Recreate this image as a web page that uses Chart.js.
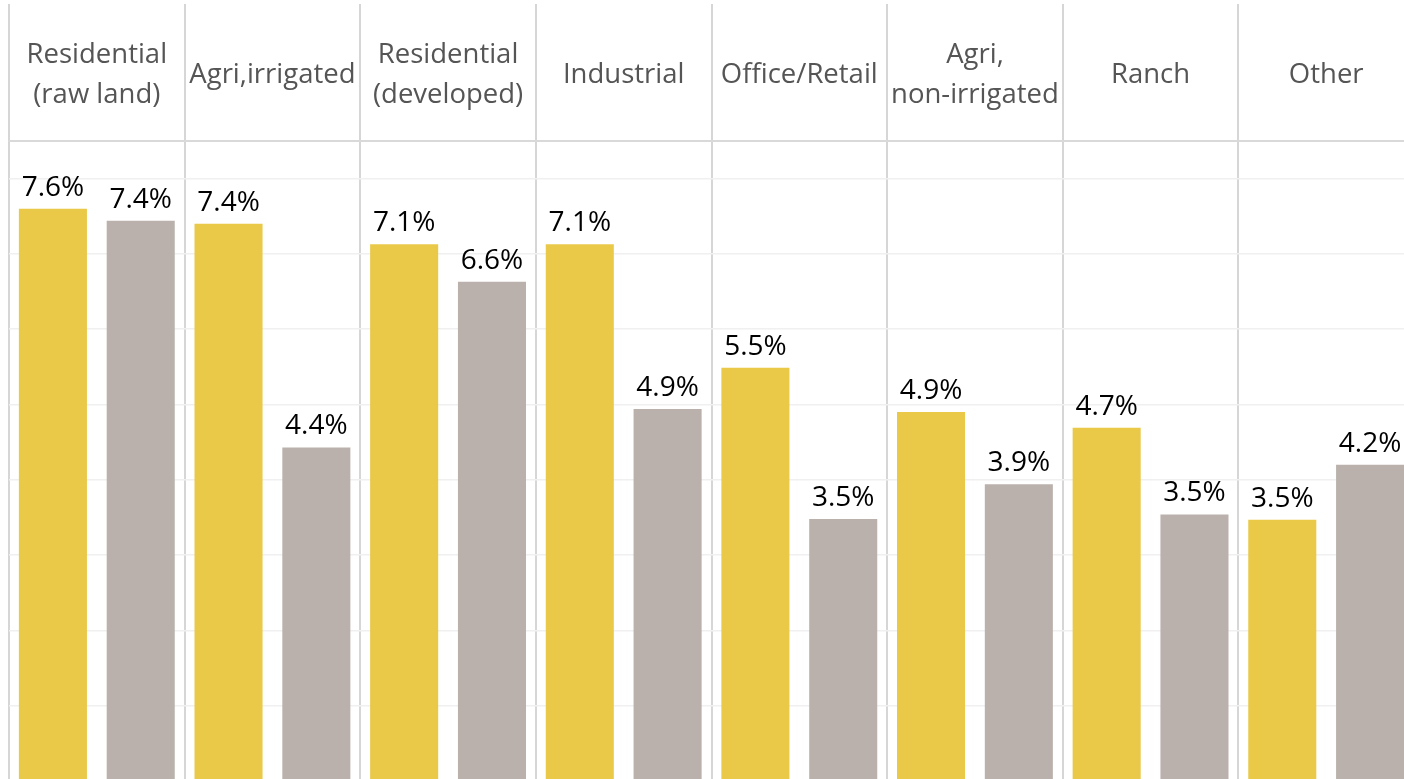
<!DOCTYPE html>
<html>
<head>
<meta charset="utf-8">
<script src="https://cdn.jsdelivr.net/npm/chart.js@4.4.1/dist/chart.umd.min.js"></script>
<style>
  html, body { margin: 0; padding: 0; background: #ffffff; overflow: hidden; }
  #wrap { width: 1404px; height: 779px; overflow: hidden; position: relative; }
  canvas { display: block; }
</style>
</head>
<body>
<div id="wrap"><canvas id="c" width="1414" height="781"></canvas></div>
<script>
const categories = [
  ["Residential", "(raw land)"],
  "Agri,irrigated",
  ["Residential", "(developed)"],
  "Industrial",
  "Office/Retail",
  ["Agri,", "non-irrigated"],
  "Ranch",
  "Other"
];
const seriesA = [7.6, 7.40, 7.13, 7.13, 5.49, 4.90, 4.69, 3.47];
const seriesB = [7.44, 4.43, 6.63, 4.94, 3.48, 3.94, 3.54, 4.20];
const yTicks = { min: 0, max: 8.5, step: 1 };

const barLabels = {
  id: 'barLabels',
  afterDatasetsDraw(chart) {
    const ctx = chart.ctx;
    ctx.save();
    ctx.font = '28px "Open Sans"';
    ctx.fillStyle = '#000000';
    ctx.textAlign = 'center';
    ctx.textBaseline = 'alphabetic';
    chart.data.datasets.forEach((ds, i) => {
      const meta = chart.getDatasetMeta(i);
      meta.data.forEach((bar, j) => {
        ctx.fillText(ds.data[j].toFixed(1) + '%', bar.x, bar.y - 13);
      });
    });
    ctx.restore();
  }
};

new Chart(document.getElementById('c'), {
  type: 'bar',
  data: {
    labels: categories,
    datasets: [
      { data: seriesA, backgroundColor: '#EAC848', borderWidth: 0,
        categoryPercentage: 1.0, barPercentage: 0.775 },
      { data: seriesB, backgroundColor: '#BAB1AC', borderWidth: 0,
        categoryPercentage: 1.0, barPercentage: 0.775 }
    ]
  },
  options: {
    responsive: false,
    devicePixelRatio: 1,
    animation: false,
    layout: { padding: { top: 4, left: 9, right: 0, bottom: 0 } },
    plugins: { legend: { display: false }, tooltip: { enabled: false } },
    scales: {
      x: {
        position: 'top',
        afterFit(scale) { scale.height = 137; },
        grid: { offset: true, color: '#d6d6d6', lineWidth: 2, drawTicks: true, tickLength: 137 },
        border: { display: true, color: '#d9d9d9', width: 2 },
        ticks: {
          color: '#555555',
          font: { family: 'Open Sans', size: 27.5, lineHeight: 40 / 27.5 },
          padding: -91,
          crossAlign: 'center',
          maxRotation: 0, minRotation: 0, autoSkip: false
        }
      },
      y: {
        min: yTicks.min, max: yTicks.max,
        ticks: { display: false, stepSize: yTicks.step },
        grid: { color: '#f0f0f0', lineWidth: 1.5, drawTicks: false },
        border: { display: false }
      }
    }
  },
  plugins: [barLabels]
});
</script>
</body>
</html>
